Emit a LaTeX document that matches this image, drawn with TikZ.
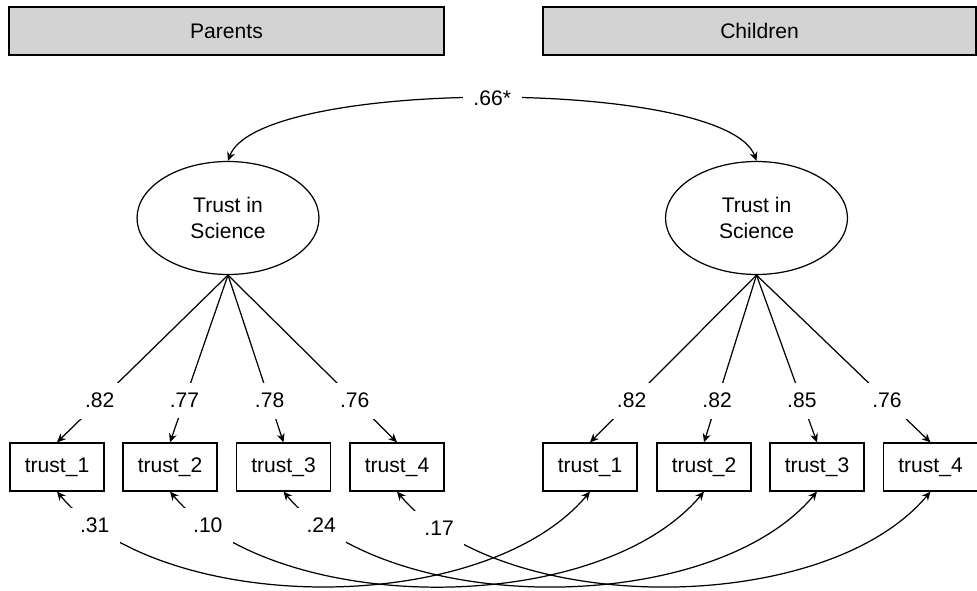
\documentclass[tikz,border=0pt]{standalone}
\usepackage{fontspec}
\setmainfont{Liberation Sans}
\usepackage{tikz}
\usetikzlibrary{arrows.meta,shapes.geometric}
\definecolor{headGray}{RGB}{211,211,211}
\tikzset{
    >={Stealth[length=5pt,width=4.5pt]},
    group/.style={draw,fill=headGray,minimum height=0.96cm,inner sep=0pt},
    latent/.style={ellipse,draw,minimum width=3.64cm,minimum height=2.26cm,inner sep=0pt,align=center},
    item/.style={draw,minimum width=1.88cm,minimum height=0.96cm,inner sep=0pt},
    coef/.style={fill=white,inner sep=6pt},
    resid/.style={out=-50,in=-130,looseness=0.79}
}

\begin{document}
\begin{tikzpicture}[x=0.02cm,y=-0.02cm,line width=0.7pt,font=\fontsize{12}{14.8}\selectfont]
  \useasboundingbox (0,0) rectangle (977,591);

  \node[group,minimum width=8.7cm]  (ph) at (226.5,31) {Parents};
  \node[group,minimum width=8.66cm] (ch) at (759.5,31) {Children};

  \node[latent] (pf) at (228,218) {Trust in\\Science};
  \node[latent] (cf) at (756.5,218) {Trust in\\Science};

  \node[item] (p1) at (57,467)    {trust\_1};
  \node[item] (p2) at (170,467)   {trust\_2};
  \node[item] (p3) at (283.5,467) {trust\_3};
  \node[item] (p4) at (397,467)   {trust\_4};
  \node[item] (c1) at (590,467)   {trust\_1};
  \node[item] (c2) at (704,467)   {trust\_2};
  \node[item] (c3) at (817,467)   {trust\_3};
  \node[item] (c4) at (930.5,467) {trust\_4};

  \draw[<->] (pf.north) to[out=70,in=110,looseness=0.43] node[coef] {.66*} (cf.north);

  \draw[->] (pf.south) -- node[coef,pos=0.75] {.82} (p1.north);
  \draw[->] (pf.south) -- node[coef,pos=0.75] {.77} (p2.north);
  \draw[->] (pf.south) -- node[coef,pos=0.75] {.78} (p3.north);
  \draw[->] (pf.south) -- node[coef,pos=0.75] {.76} (p4.north);
  \draw[->] (cf.south) -- node[coef,pos=0.75] {.82} (c1.north);
  \draw[->] (cf.south) -- node[coef,pos=0.75] {.82} (c2.north);
  \draw[->] (cf.south) -- node[coef,pos=0.75] {.85} (c3.north);
  \draw[->] (cf.south) -- node[coef,pos=0.75] {.76} (c4.north);

  \draw[<->] (p1.south) to[resid] node[coef,pos=0.1] {.31} (c1.south);
  \draw[<->] (p2.south) to[resid] node[coef,pos=0.1] {.10} (c2.south);
  \draw[<->] (p3.south) to[resid] node[coef,pos=0.1] {.24} (c3.south);
  \draw[<->] (p4.south) to[resid] node[coef,pos=0.11] {.17} (c4.south);
\end{tikzpicture}
\end{document}
